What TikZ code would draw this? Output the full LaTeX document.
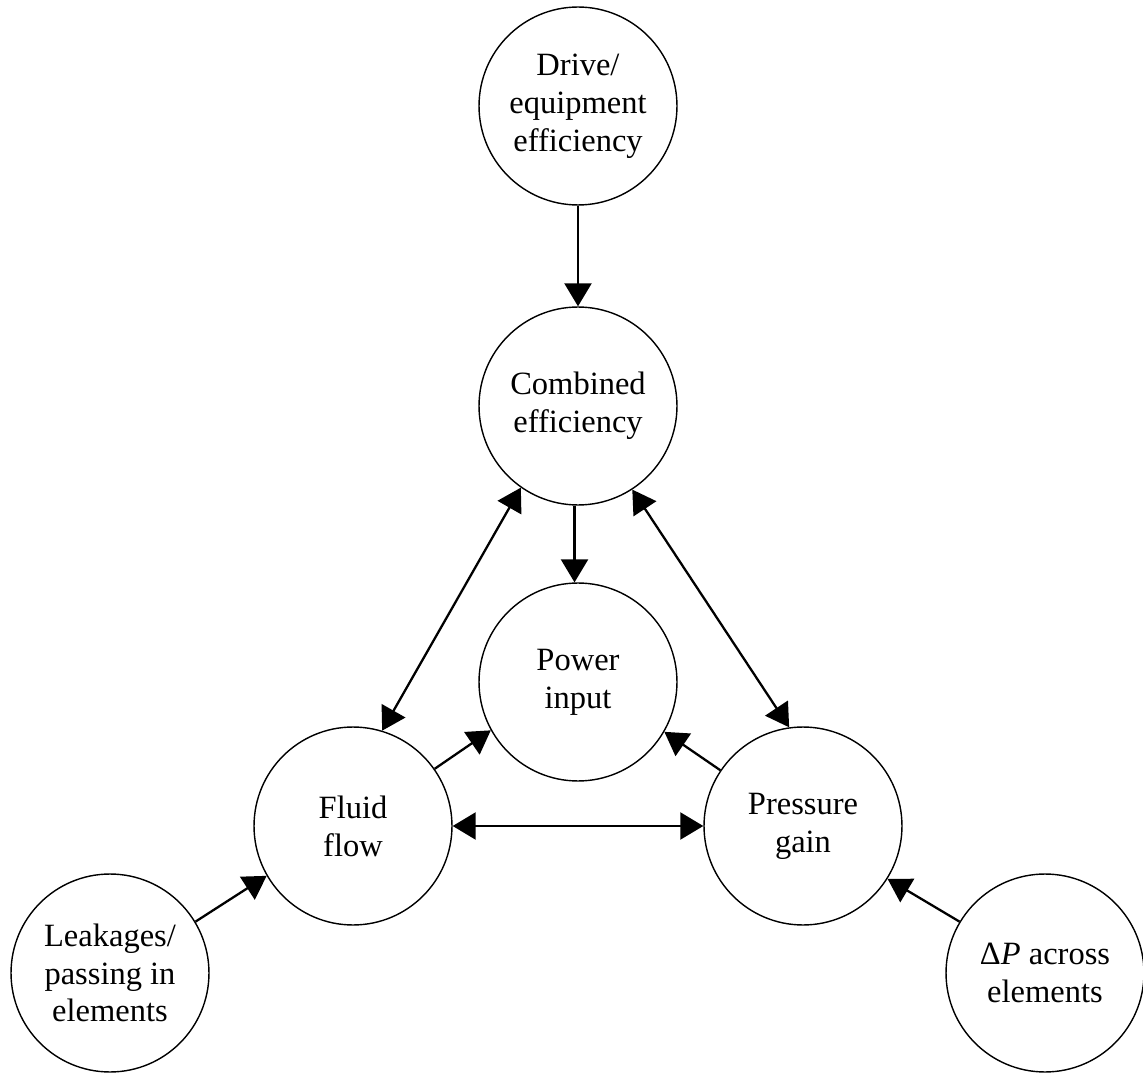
\documentclass[tikz,border=0pt]{standalone}
\usepackage{fontspec}
\setmainfont{Liberation Serif}
\usetikzlibrary{arrows.meta}
\begin{document}
\begin{tikzpicture}[x=0.02cm,y=-0.02cm,
  bubble/.style={draw, line width=0.8pt, circle, minimum size=3.96cm, inner sep=0pt,
    align=center, font=\fontsize{18.5}{21.5}\selectfont},
  tip/.tip={Triangle[length=0.46cm,width=0.54cm]},
  link/.style={line width=1.3pt, -tip},
  both/.style={line width=1.3pt, tip-tip}]
\useasboundingbox (0,0) rectangle (1143,1074);

% circles
\node[bubble] (drive) at (578,106) {Drive/\\equipment\\efficiency};
\node[bubble] (comb)  at (578,406) {Combined\\efficiency};
\node[bubble] (power) at (578,682) {Power\\input};
\node[bubble] (fluid) at (353,826) {Fluid\\flow};
\node[bubble] (press) at (803,826) {Pressure\\gain};
\node[bubble] (leak)  at (110,973) {Leakages/\\passing in\\elements};
\node[bubble] (dp)    at (1045,973) {Δ\textit{P} across\\elements};

% connectors
\draw[link] (drive.south) -- (comb.north);
\draw[link] (comb.268) -- (power.92);
\draw[both] (comb.235) -- (fluid.73);
\draw[both] (comb.303) -- (press.98);
\draw[link] (fluid.35) -- (power.209);
\draw[link] (press.146) -- (power.330);
\draw[both] (fluid.east) -- (press.west);
\draw[link] (leak.31) -- (fluid.210);
\draw[link] (dp.149) -- (press.328);
\end{tikzpicture}
\end{document}
